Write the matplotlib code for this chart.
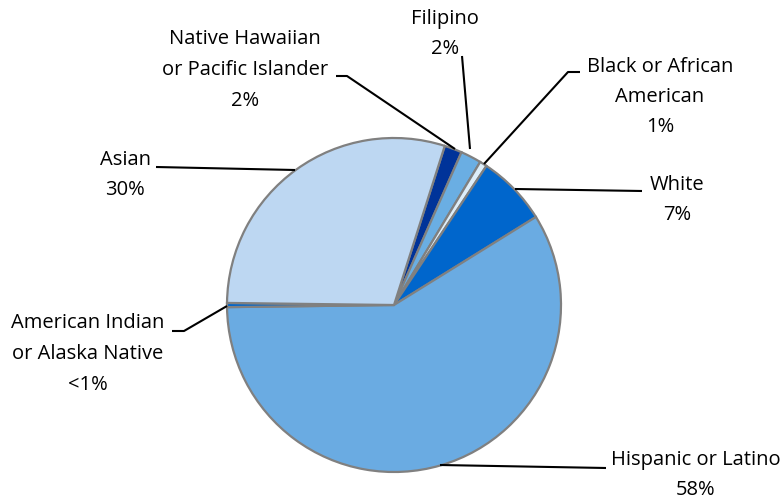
import matplotlib
matplotlib.use("Agg")
import matplotlib.pyplot as plt

categories = ["Native Hawaiian\nor Pacific Islander", "Filipino", "Black or African\nAmerican",
              "White", "Hispanic or Latino", "American Indian\nor Alaska Native", "Asian"]
values = [1.7, 2.0, 0.7, 6.8, 58.4, 0.4, 29.6]
pct_labels = ["2%", "2%", "1%", "7%", "58%", "<1%", "30%"]
colors = ["#003399", "#6AAEE3", "#DDEEFA", "#0066CC", "#6AABE2", "#0066CC", "#BDD7F2"]

W, H = 783, 502
fig = plt.figure(figsize=(W / 100, H / 100), dpi=100)
ax = fig.add_axes([0, 0, 1, 1])

def Y(y):
    return H - y

cx, cy, r = 394, 306, 167
ax.pie(values, colors=colors, startangle=72.3, counterclock=False,
       center=(cx, Y(cy)), radius=r,
       wedgeprops=dict(edgecolor="#808080", linewidth=1.6))
ax.set_xlim(0, W)
ax.set_ylim(0, H)
ax.set_aspect("equal")
ax.axis("off")

font = dict(family="Open Sans", fontsize=14.5, color="#000000", linespacing=1.7,
            ha="center", va="center")

# label text positions (pixel coords) and leader lines
label_pos = [(245, 70), (445, 34), (660, 97), (677, 200), (696, 475), (88, 354), (125, 175)]
leaders = [
    [(336, 77), (347, 77), (455, 150)],
    [(462, 57), (470, 150)],
    [(580, 73), (568, 73), (484, 165)],
    [(642, 192), (515, 190)],
    [(606, 469), (440, 466)],
    [(172, 332), (184, 332), (227, 307)],
    [(156, 168), (295, 171)],
]

for cat, pct, (lx, ly), pts in zip(categories, pct_labels, label_pos, leaders):
    txt = cat + "\n" + pct
    ax.text(lx, Y(ly), txt, **font)
    xs = [p[0] for p in pts]
    ys = [Y(p[1]) for p in pts]
    ax.plot(xs, ys, color="black", linewidth=1.5, solid_capstyle="butt")

fig.savefig("out.png", dpi=100)
